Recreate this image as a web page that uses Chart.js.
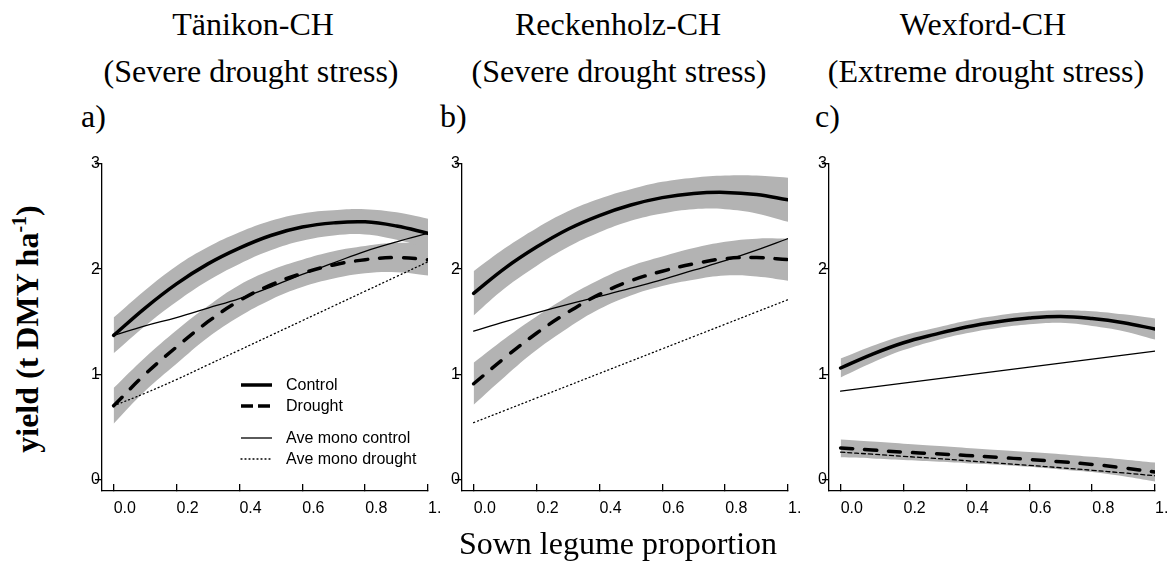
<!DOCTYPE html>
<html>
<head>
<meta charset="utf-8">
<script src="https://cdn.jsdelivr.net/npm/chart.js@4.4.1/dist/chart.umd.min.js"></script>
<style>
  html,body{margin:0;padding:0;background:#fff;}
  body{width:1167px;height:562px;overflow:hidden;position:relative;font-family:'Liberation Sans',Arial,sans-serif;}
  .box{position:absolute;}
  .ttl{position:absolute;font-family:'Liberation Serif','Times New Roman',serif;font-size:32px;line-height:32px;white-space:nowrap;color:#000;transform:translateX(-50%);}
  .tag{position:absolute;font-family:'Liberation Serif','Times New Roman',serif;font-size:32px;line-height:32px;color:#000;}
  #ylab{position:absolute;left:27px;top:329px;transform:translate(-50%,-50%) rotate(-90deg);font-family:'Liberation Serif','Times New Roman',serif;font-weight:bold;font-size:32px;line-height:32px;white-space:nowrap;}
  #ylab sup{font-size:20px;line-height:0;vertical-align:12px;}
  #legend{position:absolute;left:240px;top:374px;font-size:16px;line-height:20px;color:#000;}
  #legend .row{display:flex;align-items:center;height:21px;}
  #legend .gap{height:11px;}
  #legend svg{margin-right:14px;}
</style>
</head>
<body>
<div class="ttl" style="left:253px;top:8px">Tänikon-CH</div>
<div class="ttl" style="left:251px;top:55px">(Severe drought stress)</div>
<div class="ttl" style="left:618px;top:8px">Reckenholz-CH</div>
<div class="ttl" style="left:619px;top:55px">(Severe drought stress)</div>
<div class="ttl" style="left:983px;top:8px">Wexford-CH</div>
<div class="ttl" style="left:986px;top:55px">(Extreme drought stress)</div>
<div class="tag" style="left:81px;top:100px">a)</div>
<div class="tag" style="left:440px;top:100px">b)</div>
<div class="tag" style="left:815px;top:100px">c)</div>

<div class="box" id="boxA"><canvas id="cA"></canvas></div>
<div class="box" id="boxB"><canvas id="cB"></canvas></div>
<div class="box" id="boxC"><canvas id="cC"></canvas></div>

<div id="ylab">yield (t DMY ha<sup>-1</sup>)</div>
<div class="ttl" style="left:618px;top:527px">Sown legume proportion</div>
<div id="legend"></div>

<script>
const $ = (id) => document.getElementById(id);

// x positions (sown legume proportion) and axis ticks
const xs = [0,0.1,0.2,0.3,0.4,0.5,0.6,0.7,0.8,0.9,1.0];
const xTicks = [0,0.2,0.4,0.6,0.8,1.0];
const xTickLabels = ['0.0','0.2','0.4','0.6','0.8','1.'];
const yTicks = [0,1,2,3];
const yTickLabels = ['0','1','2','3'];
const seriesNames = ['Control','Drought','Ave mono control','Ave mono drought'];

// a) Tänikon-CH
const tanControl   = [1.37,1.63,1.86,2.05,2.20,2.32,2.40,2.44,2.45,2.41,2.34];
const tanControlHi = [1.54,1.80,2.03,2.21,2.35,2.46,2.53,2.56,2.57,2.54,2.48];
const tanControlLo = [1.20,1.46,1.69,1.89,2.05,2.18,2.27,2.32,2.33,2.28,2.20];
const tanDrought   = [0.70,1.00,1.26,1.50,1.70,1.85,1.96,2.04,2.09,2.11,2.09];
const tanDroughtHi = [0.87,1.16,1.42,1.65,1.85,1.99,2.09,2.17,2.22,2.25,2.24];
const tanDroughtLo = [0.53,0.84,1.10,1.35,1.55,1.71,1.83,1.91,1.96,1.97,1.94];
const tanMonoCtl   = [1.37,1.46,1.54,1.63,1.72,1.83,1.95,2.06,2.17,2.26,2.34];
const tanMonoDry   = [0.70,0.82,0.95,1.09,1.23,1.37,1.51,1.65,1.79,1.93,2.07];

// b) Reckenholz-CH
const recControl   = [1.77,2.01,2.21,2.38,2.51,2.61,2.68,2.72,2.73,2.71,2.66];
const recControlHi = [1.98,2.20,2.39,2.55,2.67,2.76,2.83,2.87,2.89,2.89,2.87];
const recControlLo = [1.56,1.82,2.03,2.21,2.35,2.46,2.53,2.57,2.57,2.53,2.45];
const recDrought   = [0.91,1.16,1.39,1.59,1.76,1.89,1.98,2.05,2.10,2.11,2.09];
const recDroughtHi = [1.11,1.34,1.55,1.74,1.90,2.03,2.12,2.20,2.26,2.29,2.29];
const recDroughtLo = [0.71,0.98,1.23,1.44,1.62,1.75,1.84,1.90,1.94,1.93,1.89];
const recMonoCtl   = [1.41,1.50,1.585,1.665,1.74,1.82,1.90,1.99,2.08,2.18,2.29];
const recMonoDry   = [0.54,0.657,0.774,0.891,1.008,1.125,1.242,1.359,1.476,1.593,1.71];

// c) Wexford-CH
const wexControl   = [1.06,1.19,1.30,1.38,1.45,1.50,1.535,1.55,1.53,1.49,1.43];
const wexControlHi = [1.15,1.27,1.37,1.44,1.51,1.56,1.595,1.61,1.60,1.57,1.53];
const wexControlLo = [0.97,1.11,1.23,1.32,1.39,1.44,1.475,1.49,1.46,1.41,1.33];
const wexDrought   = [0.30,0.28,0.26,0.245,0.228,0.21,0.19,0.168,0.143,0.11,0.07];
const wexDroughtHi = [0.38,0.36,0.34,0.32,0.30,0.28,0.26,0.24,0.215,0.19,0.16];
const wexDroughtLo = [0.21,0.20,0.185,0.17,0.155,0.14,0.12,0.095,0.07,0.03,-0.02];
const wexMonoCtl   = [0.84,0.878,0.916,0.954,0.992,1.03,1.068,1.106,1.144,1.182,1.22];
const wexMonoDry   = [0.26,0.24,0.22,0.20,0.178,0.156,0.134,0.111,0.087,0.062,0.035];

const BAND = '#b3b3b3';
const THICK = 3.5, THIN = 1.3;
const DASH = [12,12], DOT = [1,3];
const TICKFONT = {family:"'Liberation Sans', Arial, sans-serif", size:16};

const pts = (arr) => arr.map((y,i)=>({x:xs[i], y}));

function line(label, arr, width, dash){
  return { label, data: pts(arr), borderColor:'#000', borderWidth:width, borderDash:dash||[],
    borderCapStyle:'round', pointRadius:0, fill:false, tension:0.4, order:0 };
}
function band(arr, fill){
  return { label:'', data: pts(arr), borderWidth:0, borderColor:'rgba(0,0,0,0)', backgroundColor:BAND,
    pointRadius:0, fill, tension:0.4, order:1 };
}

// chart area in page pixels: l/r = x of -0.037 and 1.0, t/b = y of 3 and -0.11
function makePanel(boxId, cvId, area, s, monoDash){
  const pad = {l:48, t:22, r:40, b:40};
  const w = Math.round(area.r - area.l + pad.l + pad.r);
  const h = Math.round(area.b - area.t + pad.t + pad.b);
  const box = $(boxId);
  box.style.left = (area.l - pad.l)+'px';
  box.style.top = (area.t - pad.t)+'px';
  const cv = $(cvId);
  cv.width = w; cv.height = h;
  cv.style.width = w+'px'; cv.style.height = h+'px';

  return new Chart(cv.getContext('2d'), {
    type:'line',
    data:{ datasets:[
      line(seriesNames[0], s.control, THICK),
      line(seriesNames[1], s.drought, THICK, DASH),
      line(seriesNames[2], s.monoCtl, THIN),
      line(seriesNames[3], s.monoDry, THIN, monoDash),
      band(s.controlHi, '+1'), band(s.controlLo, false),
      band(s.droughtHi, '+1'), band(s.droughtLo, false)
    ]},
    options:{
      responsive:false, animation:false, events:[], devicePixelRatio:1,
      layout:{ padding:{left:0, top:pad.t, right:pad.r, bottom:0} },
      plugins:{ legend:{display:false}, tooltip:{enabled:false} },
      scales:{
        x:{ type:'linear', min:-0.037, max:1.0,
          border:{display:true, color:'#000', width:1.3},
          grid:{display:true, drawOnChartArea:false, drawTicks:true, tickLength:-7, color:'#000', lineWidth:1.3},
          ticks:{autoSkip:false, maxRotation:0, align:'start', padding:15, color:'#000', font:TICKFONT, callback:(v,i)=>xTickLabels[i]},
          afterBuildTicks:(sc)=>{ sc.ticks = xTicks.map(v=>({value:v})); },
          afterFit:(sc)=>{ sc.height = pad.b; }
        },
        y:{ type:'linear', min:-0.11, max:3,
          border:{display:true, color:'#000', width:1.3},
          grid:{display:true, drawOnChartArea:false, drawTicks:true, tickLength:7, color:'#000', lineWidth:1.3},
          ticks:{autoSkip:false, padding:-5, color:'#000', font:TICKFONT, callback:(v,i)=>yTickLabels[i]},
          afterBuildTicks:(sc)=>{ sc.ticks = yTicks.map(v=>({value:v})); },
          afterFit:(sc)=>{ sc.width = pad.l; }
        }
      }
    }
  });
}

makePanel('boxA','cA', {l:101.7, r:427.5, t:164.3, b:491},
  {control:tanControl, controlHi:tanControlHi, controlLo:tanControlLo,
   drought:tanDrought, droughtHi:tanDroughtHi, droughtLo:tanDroughtLo,
   monoCtl:tanMonoCtl, monoDry:tanMonoDry}, DOT);
makePanel('boxB','cB', {l:461.7, r:787.5, t:164.3, b:491},
  {control:recControl, controlHi:recControlHi, controlLo:recControlLo,
   drought:recDrought, droughtHi:recDroughtHi, droughtLo:recDroughtLo,
   monoCtl:recMonoCtl, monoDry:recMonoDry}, DOT);
makePanel('boxC','cC', {l:829.1, r:1154.7, t:164.3, b:491},
  {control:wexControl, controlHi:wexControlHi, controlLo:wexControlLo,
   drought:wexDrought, droughtHi:wexDroughtHi, droughtLo:wexDroughtLo,
   monoCtl:wexMonoCtl, monoDry:wexMonoDry}, [4,3]);

// legend (panel a)
const keys = [
  {w:THICK, dash:null}, {w:THICK, dash:'12 5'}, null, {w:THIN, dash:null}, {w:THIN, dash:'1 3'}
];
let names = [seriesNames[0], seriesNames[1], null, seriesNames[2], seriesNames[3]];
$('legend').innerHTML = keys.map((k,i)=>{
  if(!k) return '<div class="gap"></div>';
  const d = k.dash ? ` stroke-dasharray="${k.dash}" stroke-linecap="${k.w<2?'round':'butt'}"` : '';
  return `<div class="row"><svg width="32" height="8"><line x1="1" y1="4" x2="32" y2="4" stroke="#000" stroke-width="${k.w}"${d}/></svg><span>${names[i]}</span></div>`;
}).join('');
</script>
</body>
</html>
